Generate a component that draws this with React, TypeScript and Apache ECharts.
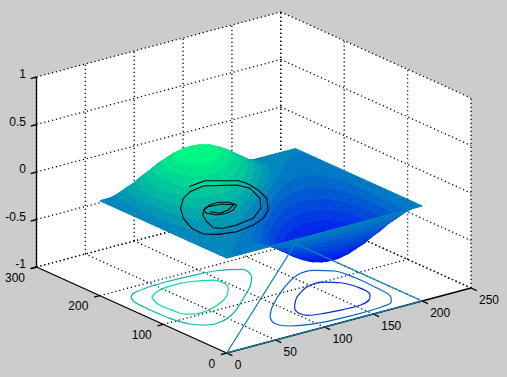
import React, { useEffect, useRef } from "react";
import * as echarts from "echarts";

const xTicks = [0, 50, 100, 150, 200, 250];
const yTicks = [0, 100, 200, 300];
const zTicks = [-1, -0.5, 0, 0.5, 1];
const zTickLabels = ["-1", "-0.5", "0", "0.5", "1"];
const surfaceX = [0, 10, 20, 30, 40, 50, 60, 70, 80, 90, 100, 110, 120, 130, 140, 150, 160, 170, 180, 190, 200];
const surfaceY = surfaceX;
// surfaceZ[xIndex][yIndex]
const surfaceZ = [
  [0,0,0,0,0,0,0,0,0,0,0,0,0,0,0,0,0,0,0,0,0],
  [0,0,.003,.014,.026,.044,.064,.087,.112,.136,.157,.175,.188,.194,.193,.184,.166,.140,.106,.062,0],
  [0,-.003,0,.016,.038,.068,.108,.144,.185,.226,.264,.295,.317,.329,.327,.312,.282,.238,.179,.106,0],
  [0,-.014,-.016,0,.034,.073,.121,.175,.233,.289,.341,.384,.416,.432,.432,.412,.373,.315,.238,.140,0],
  [0,-.026,-.038,-.034,0,.056,.116,.183,.254,.324,.388,.443,.482,.505,.507,.486,.442,.373,.282,.166,0],
  [0,-.044,-.068,-.073,-.056,0,.083,.162,.245,.327,.404,.468,.518,.547,.553,.533,.486,.412,.312,.184,0],
  [0,-.064,-.108,-.121,-.116,-.083,0,.108,.205,.300,.388,.464,.522,.559,.570,.553,.507,.432,.327,.193,0],
  [0,-.087,-.144,-.175,-.183,-.162,-.108,0,.131,.241,.341,.428,.495,.541,.559,.547,.505,.432,.329,.194,0],
  [0,-.112,-.185,-.233,-.254,-.245,-.205,-.131,0,.149,.264,.363,.441,.495,.522,.518,.482,.416,.317,.188,0],
  [0,-.136,-.226,-.289,-.324,-.327,-.300,-.241,-.149,0,.157,.272,.363,.428,.464,.468,.443,.384,.295,.175,0],
  [0,-.157,-.264,-.341,-.388,-.404,-.388,-.341,-.264,-.157,0,.157,.264,.341,.388,.404,.388,.341,.264,.157,0],
  [0,-.175,-.295,-.384,-.443,-.468,-.464,-.428,-.363,-.272,-.157,0,.149,.241,.300,.327,.324,.289,.226,.136,0],
  [0,-.188,-.317,-.416,-.482,-.518,-.522,-.495,-.441,-.363,-.264,-.149,0,.131,.205,.245,.254,.233,.185,.112,0],
  [0,-.194,-.329,-.432,-.505,-.547,-.559,-.541,-.495,-.428,-.341,-.241,-.131,0,.108,.162,.183,.175,.144,.087,0],
  [0,-.193,-.327,-.432,-.507,-.553,-.570,-.559,-.522,-.464,-.388,-.300,-.205,-.108,0,.083,.116,.121,.103,.064,0],
  [0,-.184,-.312,-.412,-.486,-.533,-.553,-.547,-.518,-.468,-.404,-.327,-.245,-.162,-.083,0,.056,.073,.068,.044,0],
  [0,-.166,-.282,-.373,-.442,-.486,-.507,-.505,-.482,-.443,-.388,-.324,-.254,-.183,-.116,-.056,0,.034,.038,.026,0],
  [0,-.140,-.238,-.315,-.373,-.412,-.432,-.432,-.416,-.384,-.341,-.289,-.233,-.175,-.121,-.073,-.034,0,.016,.014,0],
  [0,-.106,-.179,-.238,-.282,-.312,-.327,-.329,-.317,-.295,-.264,-.226,-.185,-.144,-.103,-.068,-.038,-.016,0,.003,0],
  [0,-.062,-.106,-.140,-.166,-.184,-.193,-.194,-.188,-.175,-.157,-.136,-.112,-.087,-.064,-.044,-.026,-.014,-.003,0,0],
  [0,0,0,0,0,0,0,0,0,0,0,0,0,0,0,0,0,0,0,0,0],
];

// Floor contours, [x, y] in data units
const contourHillInner = [[31,166.1],[42.2,175.5],[58.8,180.2],[77.8,177.9],[95.4,168],[97.9,156.3],[93.1,141.1],[81.2,125.1],[66.5,113],[51.4,105.7],[36.6,103.8],[28.6,110],[25.6,129],[25.2,146.8],[31,166.1]];
const contourHillOuter = [[17.6,178.2],[24.8,185.5],[41.4,190],[62.8,191.5],[85.9,190.4],[110.8,186.4],[128.9,174.9],[129.7,165.9],[123.9,151.6],[109.4,131.9],[88.6,110.4],[60.8,83.2],[39.4,71.3],[27,73.2],[17.6,85.1],[12.8,109.3],[12.1,144.8],[13.1,164.9],[17.6,178.2]];
const contourValleyInner = [[112.2,65.7],[125.7,82.4],[146.4,98.4],[162.7,100],[173.6,87.7],[178.5,63.7],[175,43.6],[167.2,33.2],[154.8,27.1],[137.8,27.4],[119.2,30.3],[105.7,35.7],[103.1,44.9],[107.5,58.4],[112.2,65.7]];
const contourValleyOuter = [[79.6,54.4],[95.3,75],[125.5,105.8],[156.6,130],[174.1,130.5],[186,117.3],[189.9,91.9],[189.2,54],[185.9,27.8],[179.1,16.5],[166.2,10.7],[136.2,9.1],[103.7,11.6],[79.7,21.9],[73.6,31],[74,42.1],[79.6,54.4]];
const contourZero = [[0,0],[200,200],[200,0],[0,0]];
// The black trace, [x, y] in data units, on the plane z = 0
const blackTrace = [[77.2,178.5],[96.1,182.4],[117.6,162.9],[119.3,152.3],[117.2,130.8],[110.8,107.6],[95.2,81.1],[80.1,65.7],[64.1,56.9],[43.9,51.9],[28.3,56.9],[19.1,66.4],[19.7,85.6],[28.5,112.4],[41.1,136],[57,156.3],[70.7,166.9],[87.4,171.7],[110.4,154.4],[114.3,139.4],[106.5,111.6],[92.7,89.2],[73.6,71.6],[53.4,66.6],[40.1,67.2],[34.5,74.3],[38.8,91.4],[45.7,108.4],[56.8,121.8],[64.7,126.1],[73.9,127.2],[80.3,121.4],[81.9,110.5],[72.7,101.5],[63.7,98.1],[54.8,100.2],[50.8,109.8],[53.3,119.1],[61.1,123.3],[73.7,121.4],[79.8,112.4],[69.4,104.5],[59.4,102],[55.1,111.4]];

const X_MAX = 250;
const Y_MAX = 300;
const FLOOR = -1;
const TOP = 1;

function project(x: number, y: number, z: number): [number, number] {
  return [
    226.7 + (x * 244.3) / 250 - (y * 190.2) / 300,
    353 - (x * 65) / 250 - (y * 86) / 300 - (z + 1) * 95,
  ];
}

const Z_LIMIT = 0.57;
const BAND_COUNT = 16;
const EPS = 1e-9;
function winter(t: number): string {
  const k = Math.max(0, Math.min(1, t));
  return `rgb(0,${Math.round(255 * k)},${Math.round(255 * (1 - k / 2))})`;
}

type P3 = [number, number, number];
function clipAbove(poly: P3[], level: number, sign: number): P3[] {
  const out: P3[] = [];
  for (let k = 0; k < poly.length; k++) {
    const a = poly[k];
    const b = poly[(k + 1) % poly.length];
    const da = (a[2] - level) * sign;
    const db = (b[2] - level) * sign;
    if (da >= 0) out.push(a);
    if ((da > 0 && db < 0) || (da < 0 && db > 0)) {
      const t = da / (da - db);
      out.push([a[0] + (b[0] - a[0]) * t, a[1] + (b[1] - a[1]) * t, level]);
    }
  }
  return out;
}

function buildTriangles(): number[][] {
  const rows: number[][] = [];
  for (let i = surfaceX.length - 2; i >= 0; i--) {
    for (let j = surfaceY.length - 2; j >= 0; j--) {
      const x0 = surfaceX[i], x1 = surfaceX[i + 1], y0 = surfaceY[j], y1 = surfaceY[j + 1];
      const z00 = surfaceZ[i][j], z10 = surfaceZ[i + 1][j], z01 = surfaceZ[i][j + 1], z11 = surfaceZ[i + 1][j + 1];
      rows.push([x0, y0, z00, x1, y0, z10, x1, y1, z11]);
      rows.push([x0, y0, z00, x0, y1, z01, x1, y1, z11]);
    }
  }
  return rows;
}

function buildGrid(): number[][] {
  const s: number[][] = [];
  for (const x of xTicks) s.push([x, Y_MAX, FLOOR, x, Y_MAX, TOP]);
  for (const y of yTicks) s.push([X_MAX, y, FLOOR, X_MAX, y, TOP]);
  for (const z of zTicks) {
    s.push([0, Y_MAX, z, X_MAX, Y_MAX, z]);
    s.push([X_MAX, Y_MAX, z, X_MAX, 0, z]);
  }
  for (const x of xTicks.slice(1)) s.push([x, 0, FLOOR, x, Y_MAX, FLOOR]);
  for (const y of yTicks.slice(1)) s.push([0, y, FLOOR, X_MAX, y, FLOOR]);
  return s;
}

function buildAxisLines(): number[][] {
  const s: number[][] = [
    [0, Y_MAX, FLOOR, 0, Y_MAX, TOP],
    [0, 0, FLOOR, 0, Y_MAX, FLOOR],
    [0, 0, FLOOR, X_MAX, 0, FLOOR],
  ];
  for (const z of zTicks) s.push([0, Y_MAX, z, -6, Y_MAX, z]);
  for (const y of yTicks) s.push([0, y, FLOOR, -6, y, FLOOR]);
  for (const x of xTicks) s.push([x, 0, FLOOR, x, -9, FLOOR]);
  return s;
}

const floorLine = (name: string, pts: number[][], color: string, smooth: number | boolean) => ({
  name,
  type: "line",
  data: pts.map(([x, y]) => project(x, y, FLOOR)),
  smooth,
  showSymbol: false,
  symbol: "none",
  clip: false,
  silent: true,
  lineStyle: { color, width: 1.2 },
});

export default function App() {
  const ref = useRef<HTMLDivElement>(null);
  useEffect(() => {
    document.body.style.margin = "0";
    const chart = echarts.init(ref.current!, null, { renderer: "svg" });
    const segment = (stroke: string, dash: number[] | null, width: number) => (_p: any, api: any) => {
      const a = api.coord(project(api.value(0), api.value(1), api.value(2)));
      const b = api.coord(project(api.value(3), api.value(4), api.value(5)));
      return {
        type: "line",
        shape: { x1: a[0], y1: a[1], x2: b[0], y2: b[1] },
        style: { stroke, lineWidth: width, lineDash: dash || undefined, fill: null },
      };
    };
    const labels: { t: string; p: [number, number]; dx: number; dy: number; align: string }[] = [
      ...zTicks.map((z, i) => ({ t: zTickLabels[i], p: project(0, Y_MAX, z), dx: -10.5, dy: -3, align: "right" })),
      ...yTicks.map((y) => ({ t: String(y), p: project(0, y, FLOOR), dx: -11.5, dy: 10.5, align: "right" })),
      ...xTicks.map((x) => ({ t: String(x), p: project(x, 0, FLOOR), dx: 8, dy: 12, align: "left" })),
    ];
    chart.setOption({
      animation: false,
      backgroundColor: "#CCCCCC",
      grid: { left: 0, right: 0, top: 0, bottom: 0 },
      xAxis: { type: "value", min: 0, max: 507, show: false },
      yAxis: { type: "value", min: 0, max: 377, inverse: true, show: false },
      series: [
        {
          name: "walls",
          type: "custom",
          clip: false,
          silent: true,
          data: [[0]],
          renderItem: (_p: any, api: any) => ({
            type: "polygon",
            shape: {
              points: [
                project(0, Y_MAX, TOP),
                project(X_MAX, Y_MAX, TOP),
                project(X_MAX, 0, TOP),
                project(X_MAX, 0, FLOOR),
                project(0, 0, FLOOR),
                project(0, Y_MAX, FLOOR),
              ].map((p) => api.coord(p)),
            },
            style: { fill: "#FFFFFF" },
          }),
        },
        {
          name: "grid",
          type: "custom",
          clip: false,
          silent: true,
          data: buildGrid(),
          renderItem: segment("#000000", [1.2, 2.8], 1.3),
        },
        {
          name: "axes",
          type: "custom",
          clip: false,
          silent: true,
          data: buildAxisLines(),
          renderItem: segment("#000000", null, 1.3),
        },
        floorLine("zero", contourZero, "#0088B4", false),
        floorLine("hill outer", contourHillOuter, "#00B8A8", 0.35),
        floorLine("hill inner", contourHillInner, "#00DC9C", 0.35),
        floorLine("valley outer", contourValleyOuter, "#0060D4", 0.35),
        floorLine("valley inner", contourValleyInner, "#0028EC", 0.35),
        {
          name: "surface",
          type: "custom",
          clip: false,
          silent: true,
          data: buildTriangles(),
          renderItem: (_p: any, api: any) => {
            const tri: P3[] = [
              [api.value(0), api.value(1), api.value(2)],
              [api.value(3), api.value(4), api.value(5)],
              [api.value(6), api.value(7), api.value(8)],
            ];
            const children: any[] = [];
            const step = (2 * Z_LIMIT) / BAND_COUNT;
            for (let b = 0; b < BAND_COUNT; b++) {
              const lo = -Z_LIMIT + b * step;
              const hi = lo + step;
              let poly = clipAbove(tri, b === 0 ? -9 : lo - EPS, 1);
              if (poly.length) poly = clipAbove(poly, b === BAND_COUNT - 1 ? 9 : hi + EPS, -1);
              if (poly.length < 3) continue;
              const fill = winter((b + 0.5) / BAND_COUNT);
              children.push({
                type: "polygon",
                shape: { points: poly.map((p) => api.coord(project(p[0], p[1], p[2]))) },
                style: { fill, stroke: fill, lineWidth: 0.7 },
              });
            }
            return { type: "group", children };
          },
        },
        {
          name: "trace",
          type: "line",
          data: blackTrace.map(([x, y]) => project(x, y, 0)),
          showSymbol: false,
          symbol: "none",
          clip: false,
          silent: true,
          lineStyle: { color: "#000000", width: 1.1 },
        },
        {
          name: "tick labels",
          type: "custom",
          clip: false,
          silent: true,
          data: labels.map((_, i) => [i]),
          renderItem: (params: any, api: any) => {
            const l = labels[params.dataIndex];
            const c = api.coord(l.p);
            return {
              type: "text",
              style: {
                text: l.t,
                x: c[0] + l.dx,
                y: c[1] + l.dy,
                align: l.align,
                verticalAlign: "middle",
                font: '12px "Liberation Sans", Arial, sans-serif',
                fill: "#000000",
              },
            };
          },
        },
      ],
    });
    return () => chart.dispose();
  }, []);
  return <div ref={ref} style={{ width: 507, height: 377 }} />;
}
